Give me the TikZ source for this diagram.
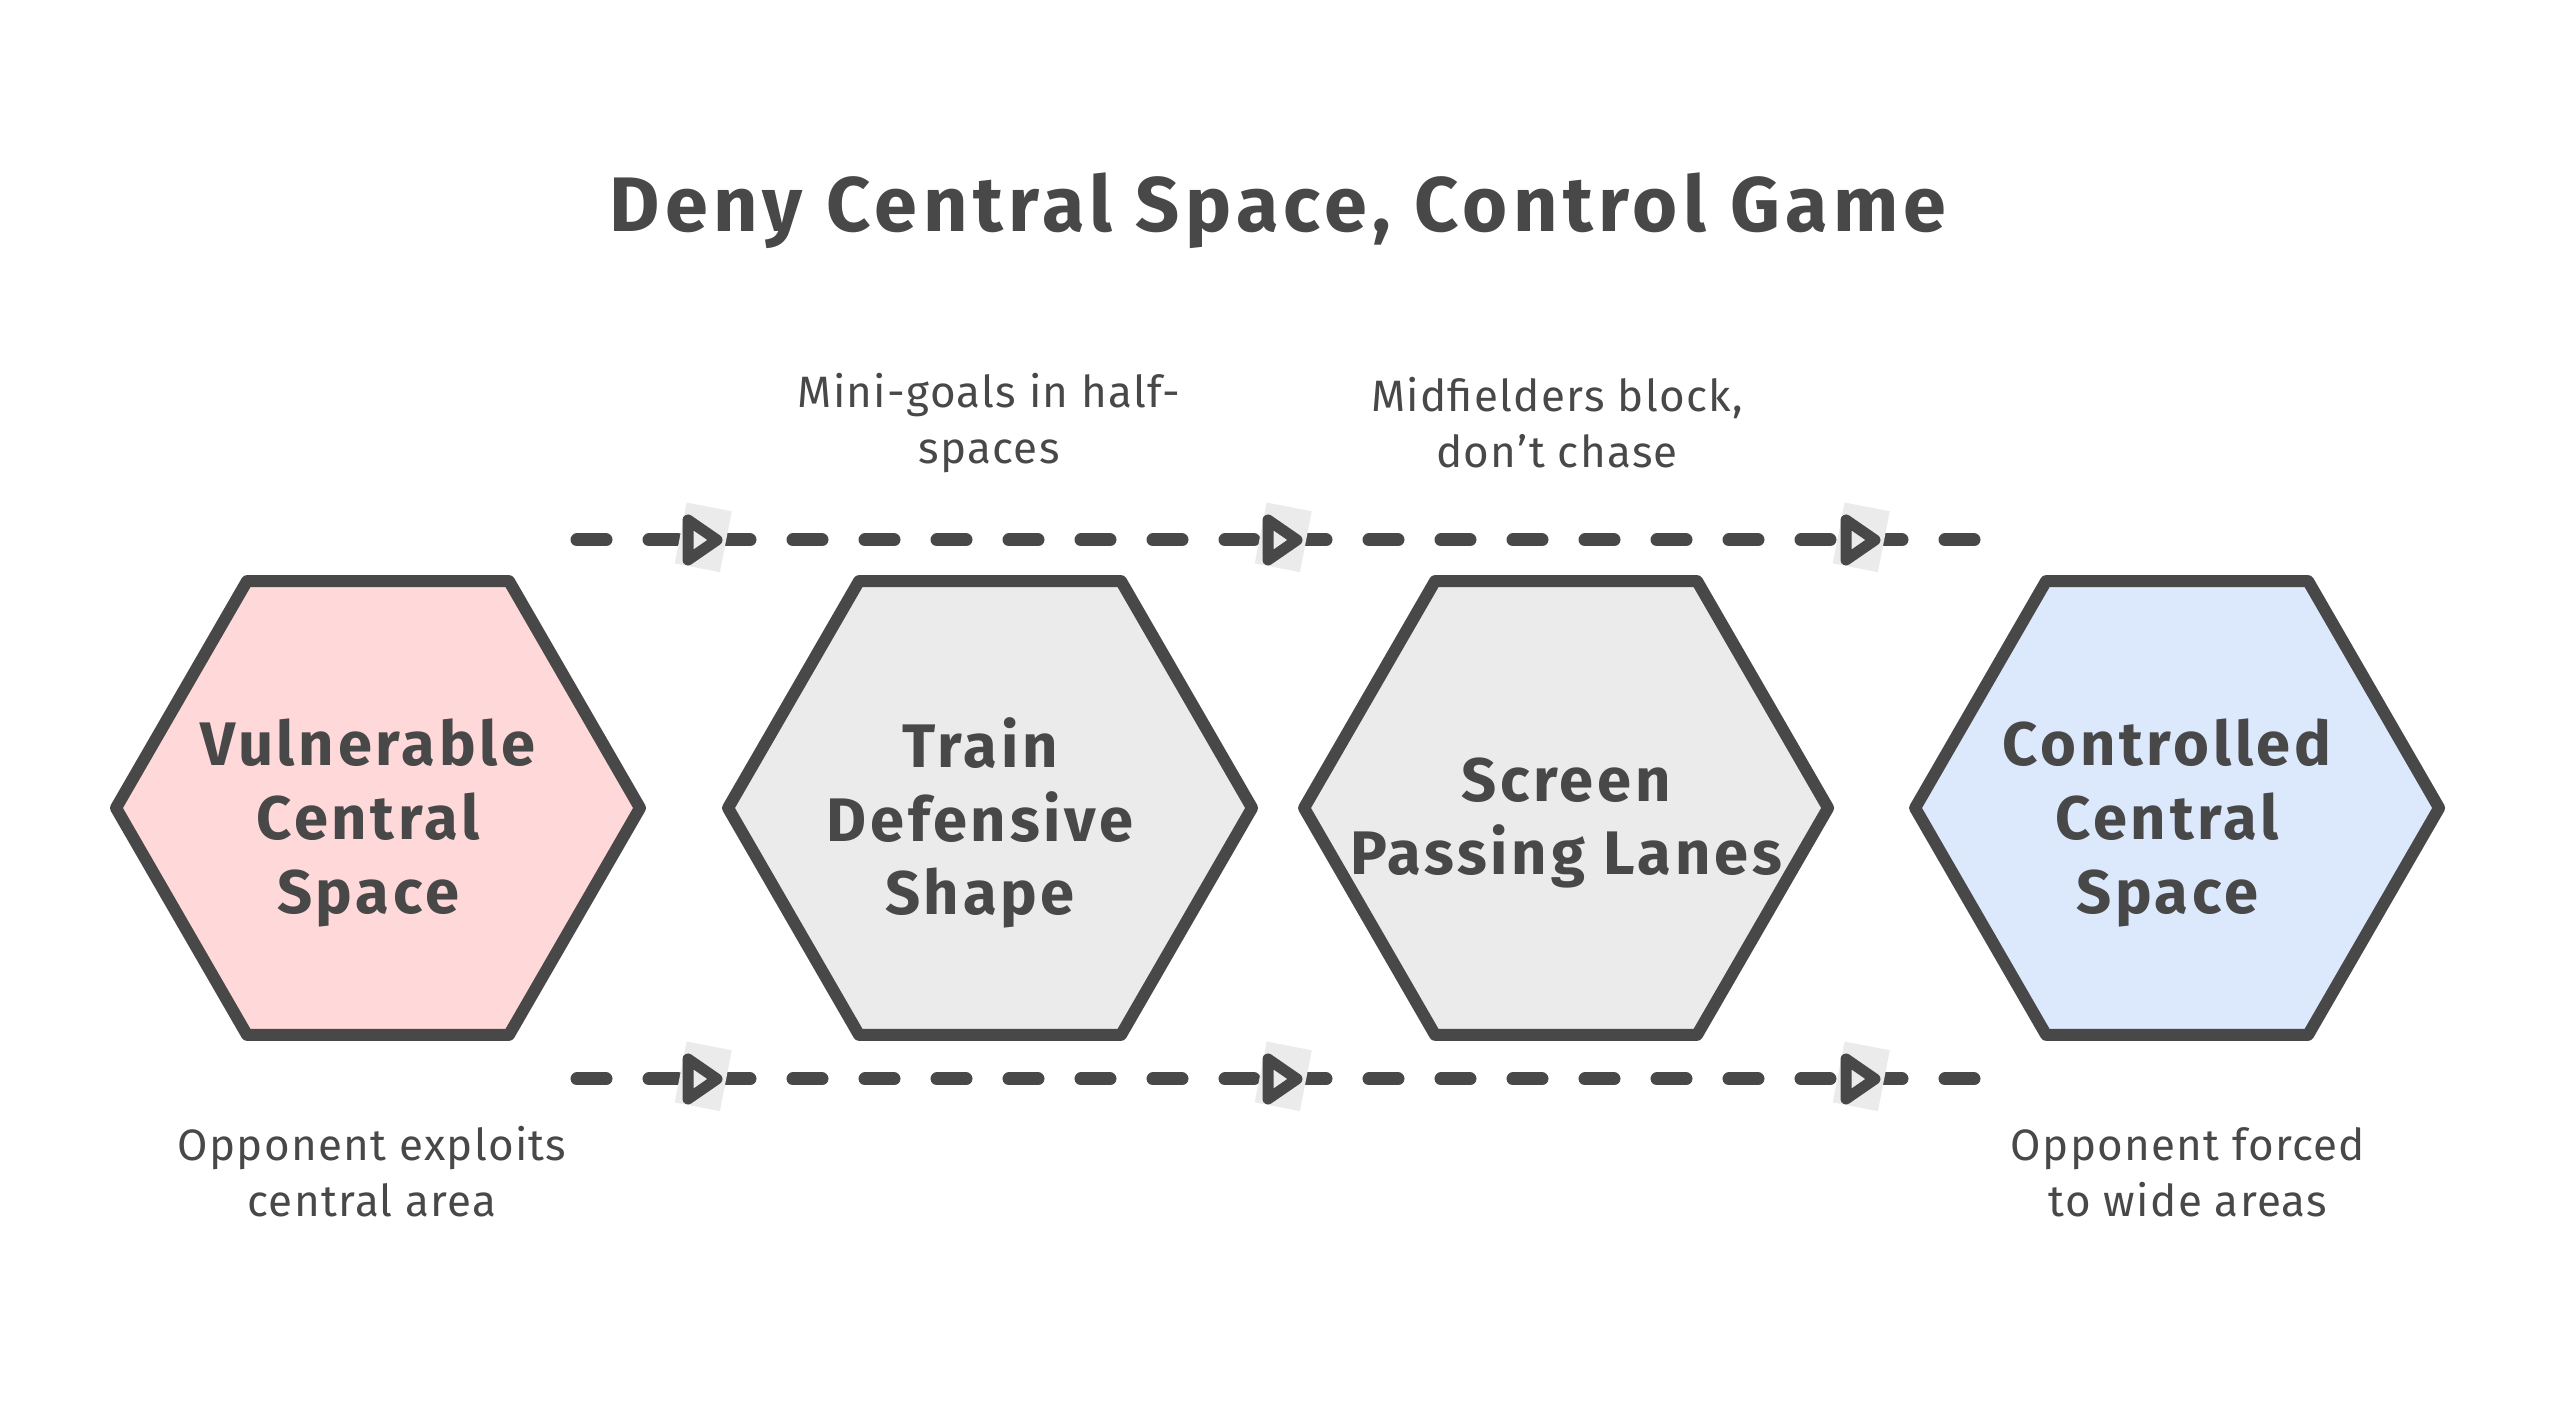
\documentclass[tikz,border=0pt]{standalone}
\usepackage{fontspec}
\setmainfont{Fira Sans}
\usetikzlibrary{positioning,shapes.geometric,decorations.markings}
\definecolor{ink}{HTML}{484848}
\definecolor{hexPink}{HTML}{FFD9D9}
\definecolor{hexGrey}{HTML}{EBEBEB}
\definecolor{hexBlue}{HTML}{DCE8FC}
\newcommand{\flowtip}{%
  \fill[hexGrey,rotate=-11] (-0.37,-0.31) rectangle (0.09,0.31);
  \draw[ink,solid,line width=1.1mm,line join=round,fill=hexGrey]
    (-0.29,0.20) -- (0,0) -- (-0.29,-0.20) -- cycle;}
\tikzset{
  hexa/.style={regular polygon, regular polygon sides=6, minimum size=5.24cm,
               draw=ink, line width=1.2mm, line join=round, inner sep=0pt, outer sep=0pt},
  hexlbl/.style={align=center, yshift=-1.5mm, text=ink,
                 font=\fontsize{17.5}{21}\selectfont\bfseries\addfontfeatures{LetterSpace=6}},
  note/.style={align=center, text=ink,
               font=\fontsize{12.5}{16}\selectfont\addfontfeatures{LetterSpace=3}},
  ttl/.style={text=ink,
              font=\fontsize{22}{26}\selectfont\bfseries\addfontfeatures{LetterSpace=7}},
  flow/.style={draw=ink, line width=1.3mm, line cap=round,
               dash pattern=on 2.9mm off 4.3mm, postaction={decorate},
               decoration={markings,
                 mark=at position 1.40cm with {\flowtip},
                 mark=at position 7.20cm with {\flowtip},
                 mark=at position 12.98cm with {\flowtip}}},
}
\begin{document}
\begin{tikzpicture}
  \useasboundingbox (0,0) rectangle (25.56,-14.04);
  \node[ttl] (title) at (12.78,-2.11) {Deny Central Space, Control Game};
  % the four stages
  \node[hexa,fill=hexPink] (vul) at (3.78,-8.08) {};
  \node[hexa,fill=hexGrey,right=0.88cm of vul] (train) {};
  \node[hexa,fill=hexGrey,right=0.52cm of train] (screen) {};
  \node[hexa,fill=hexBlue,right=0.87cm of screen] (ctrl) {};
  \node[hexlbl,xshift=-1mm] (vulT) at (vul) {Vulnerable\\Central\\Space};
  \node[hexlbl,xshift=-1mm] (trainT) at (train) {Train\\Defensive\\Shape};
  \node[hexlbl] (screenT) at (screen) {Screen\\Passing Lanes};
  \node[hexlbl,xshift=-1mm] (ctrlT) at (ctrl) {Controlled\\Central\\Space};
  % dashed flows above and below
  \coordinate (ta) at (5.77,-5.40);
  \coordinate (tb) at (19.78,-5.40);
  \coordinate (ba) at (5.77,-10.79);
  \coordinate (bb) at (19.78,-10.79);
  \draw[flow] (ta) -- (tb);
  \draw[flow] (ba) -- (bb);
  \node[note] (n1) at (9.89,-4.23) {Mini-goals in half-\\spaces};
  \node[note] (n2) at (15.57,-4.23) {Midfielders block,\\don't chase};
  \node[note] (n3) at (3.72,-11.72) {Opponent exploits\\central area};
  \node[note] (n4) at (21.88,-11.72) {Opponent forced\\to wide areas};
\end{tikzpicture}
\end{document}
